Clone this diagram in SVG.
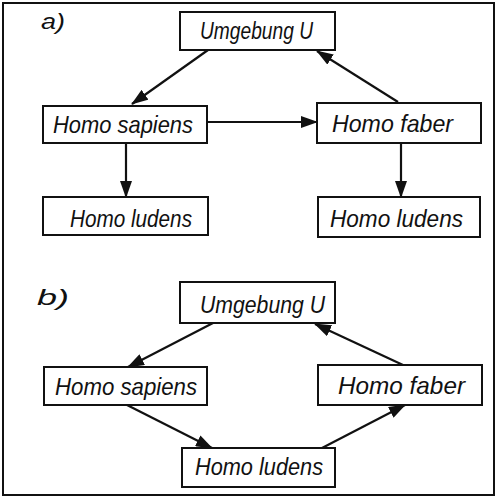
<svg xmlns="http://www.w3.org/2000/svg" width="498" height="498" viewBox="0 0 498 498">
<style>
.box{fill:#fff;stroke:#111;stroke-width:2}
.t{font-family:"Liberation Sans","DejaVu Sans",sans-serif;font-style:italic;font-size:24px;fill:#111}
.lbl{font-family:"Liberation Sans","DejaVu Sans",sans-serif;font-style:italic;font-size:22px;fill:#111}
.c{stroke:#111;stroke-width:2.2;fill:none;marker-end:url(#ah)}
</style>
<defs>
<marker id="ah" markerUnits="userSpaceOnUse" markerWidth="17" markerHeight="12" refX="16" refY="6" orient="auto">
<path d="M0,0 L17,6 L0,12 Z" fill="#111"/>
</marker>
</defs>
<rect x="0" y="0" width="498" height="498" fill="#fff"/>
<rect x="3" y="3" width="491" height="492" fill="none" stroke="#111" stroke-width="2"/>
<text class="lbl" x="41" y="29" textLength="24" lengthAdjust="spacingAndGlyphs">a)</text>
<text class="lbl" x="37" y="305" textLength="32" lengthAdjust="spacingAndGlyphs">b)</text>
<g id="connectors">
<line class="c" x1="208" y1="50" x2="132" y2="104"/>
<line class="c" x1="398" y1="102" x2="317" y2="51"/>
<line class="c" x1="207" y1="122" x2="317" y2="122"/>
<line class="c" x1="126" y1="143" x2="126" y2="197"/>
<line class="c" x1="401" y1="143" x2="401" y2="197"/>
<line class="c" x1="213" y1="323" x2="128" y2="367"/>
<line class="c" x1="403" y1="365" x2="315" y2="324"/>
<line class="c" x1="127" y1="405" x2="212" y2="448"/>
<line class="c" x1="322" y1="448" x2="405" y2="405"/>
</g>
<g id="a-umgebung"><rect class="box" x="180" y="12" width="155" height="38"/><text class="t" x="200" y="39" textLength="113" lengthAdjust="spacingAndGlyphs">Umgebung U</text></g>
<g id="a-sapiens"><rect class="box" x="43" y="106" width="164" height="37"/><text class="t" x="53" y="133" textLength="140" lengthAdjust="spacingAndGlyphs">Homo sapiens</text></g>
<g id="a-faber"><rect class="box" x="317" y="103" width="164" height="40"/><text class="t" x="332" y="132" textLength="121" lengthAdjust="spacingAndGlyphs">Homo faber</text></g>
<g id="a-ludens1"><rect class="box" x="43" y="197" width="165" height="38"/><text class="t" x="70" y="227" textLength="122" lengthAdjust="spacingAndGlyphs">Homo ludens</text></g>
<g id="a-ludens2"><rect class="box" x="318" y="197" width="162" height="40"/><text class="t" x="330" y="227" textLength="133" lengthAdjust="spacingAndGlyphs">Homo ludens</text></g>
<g id="b-umgebung"><rect class="box" x="180" y="282" width="155" height="41"/><text class="t" x="200" y="313" textLength="125" lengthAdjust="spacingAndGlyphs">Umgebung U</text></g>
<g id="b-sapiens"><rect class="box" x="44" y="367" width="163" height="38"/><text class="t" x="55" y="395" textLength="142" lengthAdjust="spacingAndGlyphs">Homo sapiens</text></g>
<g id="b-faber"><rect class="box" x="318" y="365" width="164" height="40"/><text class="t" x="338" y="394" textLength="127" lengthAdjust="spacingAndGlyphs">Homo faber</text></g>
<g id="b-ludens"><rect class="box" x="182" y="448" width="153" height="39"/><text class="t" x="195" y="475" textLength="128" lengthAdjust="spacingAndGlyphs">Homo ludens</text></g>
</svg>
